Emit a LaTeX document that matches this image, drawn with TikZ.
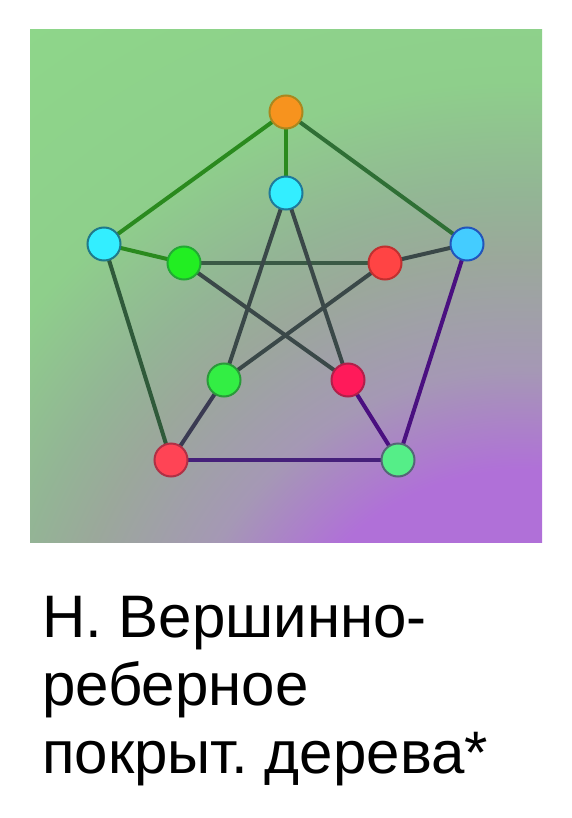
\documentclass[tikz,border=0pt]{standalone}
\usepackage{fontspec}
\setmainfont{Liberation Sans}
\definecolor{bgA}{HTML}{B070D8}
\definecolor{bgB}{HTML}{A598B5}
\definecolor{bgC}{HTML}{9BA89B}
\definecolor{bgD}{HTML}{93B595}
\definecolor{bgE}{HTML}{8ECF8B}
\definecolor{bgF}{HTML}{8ED68A}
\pgfdeclareradialshading{bgshade}{\pgfpoint{0bp}{0bp}}{%
  color(0bp)=(bgA); color(7.35bp)=(bgA); color(10.3bp)=(bgB);
  color(13.6bp)=(bgC); color(15.5bp)=(bgD); color(18.8bp)=(bgE);
  color(25bp)=(bgF); color(50bp)=(bgF)}
\definecolor{eGreen}{HTML}{2A8A1E}
\definecolor{eGreenDark}{HTML}{2F6F35}
\definecolor{eOlive}{HTML}{2F5A3A}
\definecolor{eGrayGreen}{HTML}{3A5A45}
\definecolor{eGray}{HTML}{3A4848}
\definecolor{eSlate}{HTML}{3A3A52}
\definecolor{ePurple}{HTML}{4A1080}
\definecolor{ePurpleB}{HTML}{45207A}
\pgfdeclarelayer{bglayer}
\pgfdeclarelayer{edgelayer}
\pgfsetlayers{bglayer,edgelayer,main}
\tikzset{
  vtx/.style={circle, minimum size=33pt, inner sep=0pt, line width=2pt},
  edge/.style={line width=4pt},
}
\begin{document}
\begin{tikzpicture}[x=1pt,y=-1pt]
\useasboundingbox (0,0) rectangle (572,818);
\begin{pgfonlayer}{bglayer}
\fill[white] (0,0) rectangle (572,818);
\begin{scope}
  \clip (30,30) rectangle (542,542);
  \shade[shading=bgshade] (520,720) circle (850);
\end{scope}
\end{pgfonlayer}
% vertices
\node[vtx, fill={rgb,255:red,247;green,147;blue,30}, draw={rgb,255:red,170;green,135;blue,30}] (o1) at (286,112) {};
\node[vtx, fill={rgb,255:red,68;green,204;blue,255}, draw={rgb,255:red,34;green,85;blue,187}] (o2) at (467,244) {};
\node[vtx, fill={rgb,255:red,85;green,238;blue,136}, draw={rgb,255:red,85;green,102;blue,119}] (o3) at (398,460) {};
\node[vtx, fill={rgb,255:red,255;green,68;blue,85}, draw={rgb,255:red,176;green,48;blue,69}] (o4) at (171,460) {};
\node[vtx, fill={rgb,255:red,51;green,238;blue,255}, draw={rgb,255:red,31;green,122;blue,138}] (o5) at (104,244) {};
\node[vtx, fill={rgb,255:red,51;green,238;blue,255}, draw={rgb,255:red,31;green,122;blue,154}] (i1) at (286,193) {};
\node[vtx, fill={rgb,255:red,255;green,68;blue,68}, draw={rgb,255:red,192;green,48;blue,48}] (i2) at (385,263) {};
\node[vtx, fill={rgb,255:red,255;green,26;blue,90}, draw={rgb,255:red,176;green,32;blue,74}] (i3) at (348,380) {};
\node[vtx, fill={rgb,255:red,51;green,238;blue,68}, draw={rgb,255:red,42;green,154;blue,58}] (i4) at (224,380) {};
\node[vtx, fill={rgb,255:red,34;green,238;blue,34}, draw={rgb,255:red,34;green,170;blue,51}] (i5) at (184,263) {};
% edges
\begin{pgfonlayer}{edgelayer}
\draw[edge, eGreen] (o1.center) -- (o5.center);
\draw[edge, eGreen] (o1.center) -- (i1.center);
\draw[edge, eGreen] (o5.center) -- (i5.center);
\draw[edge, eGreenDark] (o1.center) -- (o2.center);
\draw[edge, eOlive] (o5.center) -- (o4.center);
\draw[edge, eGrayGreen] (i5.center) -- (i2.center);
\draw[edge, eGray] (i2.center) -- (o2.center);
\draw[edge, eGray] (i1.center) -- (i4.center);
\draw[edge, eGray] (i1.center) -- (i3.center);
\draw[edge, eGray] (i5.center) -- (i3.center);
\draw[edge, eGray] (i2.center) -- (i4.center);
\draw[edge, eSlate] (o4.center) -- (i4.center);
\draw[edge, ePurple] (i3.center) -- (o3.center);
\draw[edge, ePurple] (o2.center) -- (o3.center);
\draw[edge, ePurpleB] (o4.center) -- (o3.center);
\end{pgfonlayer}
% caption
\node[anchor=base west, align=left, inner sep=0pt,
      font=\fontsize{60}{68}\selectfont\frenchspacing] (cap) at (42,773)
  {Н. Вершинно-\\реберное\\покрыт. дерева*};
\end{tikzpicture}
\end{document}
